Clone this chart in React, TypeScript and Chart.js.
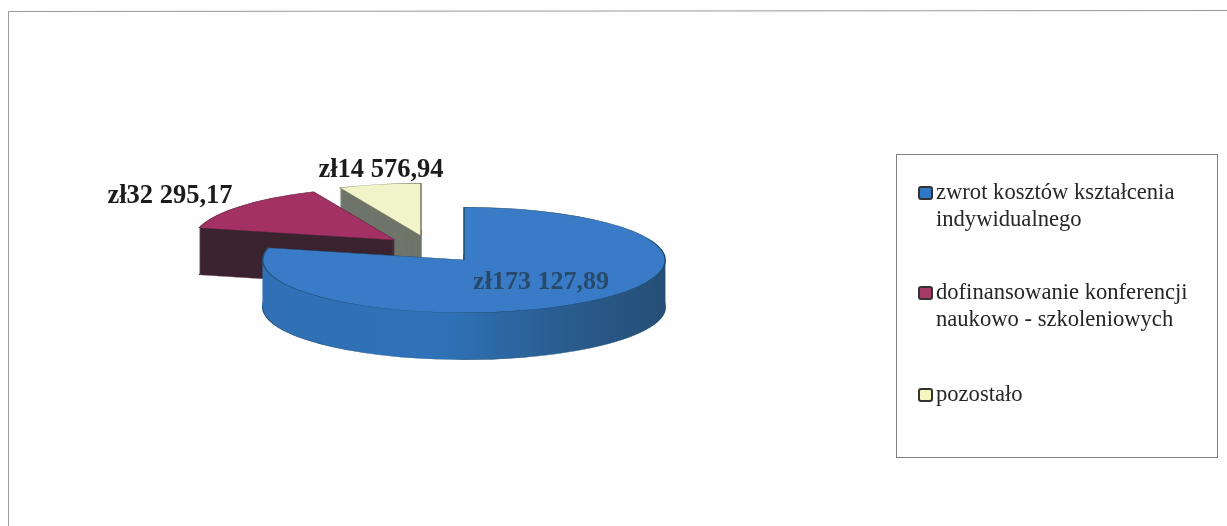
import React, { useEffect, useRef } from "react";
import { Chart, registerables } from "chart.js";

Chart.register(...registerables);

const categories = [
  ["zwrot kosztów kształcenia", "indywidualnego"],
  ["dofinansowanie konferencji", "naukowo - szkoleniowych"],
  ["pozostało"],
];
const values = [173127.89, 32295.17, 14576.94];
const topColors = ["#3a7bc8", "#a33163", "#f1f3c9"];
const edgeColors = ["#1f4f70", "#6a2a4a", "#77775f"];
const sideColors = ["#2f70b4", "#3b2330", "#6f7569"];
const labelColors = ["#27496a", "#1c1c1c", "#1c1c1c"];
const swatchColors = ["#2f78c8", "#a83a68", "#f5f5c0"];

const WIDTH = 1227;
const HEIGHT = 526;
const TILT = 0.262;
const DEPTH = 47;
const SERIF = '"Liberation Serif", serif';
const explode = [
  { dx: 0, dy: 0 },
  { dx: -69, dy: -20 },
  { dx: -43, dy: -24 },
];
const labelAt = [
  { x: 541, y: 282 },
  { x: 170, y: 196.5 },
  { x: 381, y: 170 },
];
const labelSize = [26, 26.5, 26.5];
const legendRows = [
  { swatchY: 193, lineY: [193.5, 220.5] },
  { swatchY: 293, lineY: [293.5, 320.5] },
  { swatchY: 395, lineY: [395.5] },
];

const money = (v: number) => {
  const [whole, frac] = v.toFixed(2).split(".");
  return "zł" + whole.replace(/\B(?=(\d{3})+$)/g, " ") + "," + frac;
};

const pie3d = {
  id: "pie3d",
  beforeDraw(chart: any) {
    const { ctx } = chart;
    ctx.save();
    ctx.fillStyle = "#fefefe";
    ctx.fillRect(0, 0, WIDTH, HEIGHT);
    ctx.strokeStyle = "#9a9a9a";
    ctx.lineWidth = 1;
    ctx.beginPath();
    ctx.moveTo(8.5, HEIGHT);
    ctx.lineTo(8.5, 11.5);
    ctx.lineTo(WIDTH, 10.5);
    ctx.stroke();
    ctx.restore();
  },
  beforeDatasetsDraw(chart: any) {
    const { ctx } = chart;
    const arcs = chart.getDatasetMeta(0).data;
    const sideGradient = ctx.createLinearGradient(262, 0, 666, 0);
    sideGradient.addColorStop(0, "#3170b4");
    sideGradient.addColorStop(0.45, "#2f72b8");
    sideGradient.addColorStop(0.72, "#2a5e92");
    sideGradient.addColorStop(1, "#264e76");

    [2, 1, 0].forEach((i) => {
      const arc = arcs[i];
      const base = arc.options;
      const cy = arc.y;
      const place = (d: number) => {
        ctx.save();
        ctx.translate(explode[i].dx, explode[i].dy + d);
        ctx.translate(0, cy);
        ctx.scale(1, TILT);
        ctx.translate(0, -cy);
      };
      for (let d = DEPTH; d >= 1; d--) {
        place(d);
        const fill = i === 0 ? sideGradient : sideColors[i];
        arc.options = {
          ...base,
          backgroundColor: fill,
          borderColor: d === DEPTH ? edgeColors[i] : fill,
          borderWidth: d === DEPTH ? 1.5 : 0,
        };
        arc.draw(ctx);
        ctx.restore();
      }
      place(0);
      arc.options = base;
      arc.draw(ctx);
      ctx.restore();
    });
    return false;
  },
  afterDraw(chart: any) {
    const { ctx } = chart;
    ctx.save();
    ctx.textBaseline = "middle";
    ctx.textAlign = "center";
    values.forEach((v, i) => {
      ctx.font = `bold ${labelSize[i]}px ${SERIF}`;
      ctx.fillStyle = labelColors[i];
      ctx.fillText(money(v), labelAt[i].x, labelAt[i].y);
    });

    ctx.strokeStyle = "#808080";
    ctx.lineWidth = 1;
    ctx.strokeRect(896.5, 154.5, 321, 303);

    ctx.textAlign = "left";
    ctx.font = `22.6px ${SERIF}`;
    categories.forEach((lines, i) => {
      const row = legendRows[i];
      ctx.fillStyle = swatchColors[i];
      ctx.strokeStyle = "#333333";
      ctx.lineWidth = 2;
      ctx.beginPath();
      ctx.roundRect(919, row.swatchY - 6, 13, 12, 2);
      ctx.fill();
      ctx.stroke();
      ctx.fillStyle = "#262626";
      lines.forEach((line, k) => ctx.fillText(line, 936, row.lineY[k]));
    });
    ctx.restore();
  },
};

export default function App() {
  const ref = useRef<HTMLCanvasElement>(null);
  useEffect(() => {
    const chart = new Chart(ref.current as HTMLCanvasElement, {
      type: "pie",
      data: {
        labels: categories as any,
        datasets: [
          {
            data: values,
            backgroundColor: topColors,
            borderColor: edgeColors,
            borderWidth: 1.5,
            borderJoinStyle: "bevel",
          },
        ],
      },
      options: {
        responsive: false,
        animation: false,
        layout: { padding: { left: 262, right: 561, top: 58, bottom: 64 } },
        plugins: { legend: { display: false }, tooltip: { enabled: false } },
      },
      plugins: [pie3d],
    });
    return () => chart.destroy();
  }, []);
  return (
    <div style={{ position: "absolute", left: 0, top: 0, width: WIDTH, height: HEIGHT }}>
      <canvas ref={ref} width={WIDTH} height={HEIGHT} style={{ display: "block" }} />
    </div>
  );
}
